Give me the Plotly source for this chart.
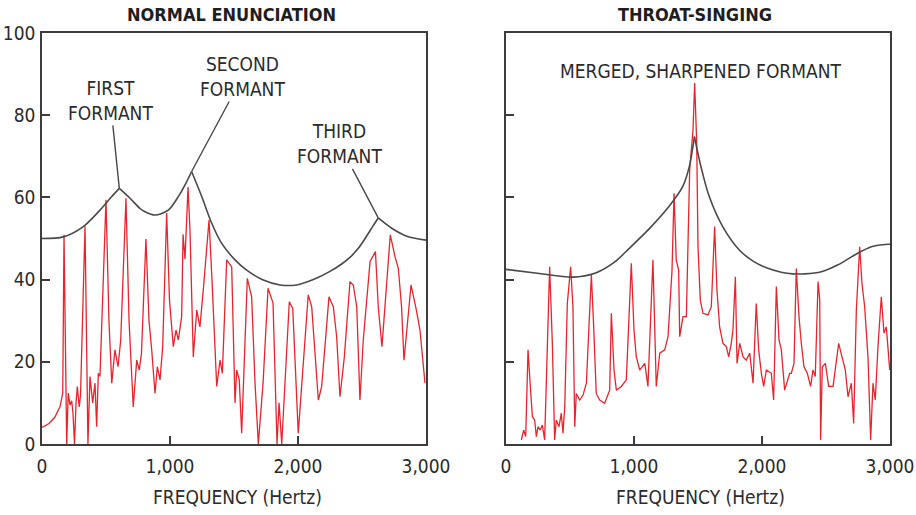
import plotly.graph_objects as go

# ---------------- data ----------------
# Normal enunciation: harmonic spectrum (Hz, dB)
normal_freq = [0, 55, 100, 141, 162, 172, 193, 205, 219, 232,
               242, 254, 266, 276, 291, 301, 336, 352, 359, 375,
               396, 414, 427, 440, 453, 500, 523, 545, 570, 594,
               615, 656, 680, 713, 740, 760, 777, 812, 836, 857,
               883, 901, 922, 943, 974, 996, 1026, 1047, 1065, 1091,
               1102, 1117, 1141, 1156, 1182, 1209, 1234, 1260, 1305, 1328,
               1365, 1391, 1409, 1443, 1482, 1508, 1521, 1541, 1560, 1604,
               1638, 1664, 1690, 1727, 1766, 1805, 1836, 1852, 1873, 1932,
               1959, 2002, 2029, 2080, 2107, 2159, 2185, 2242, 2276, 2302,
               2328, 2362, 2406, 2432, 2459, 2484, 2510, 2549, 2563, 2605,
               2627, 2656, 2721, 2758, 2784, 2809, 2828, 2848, 2883, 2922,
               2953, 2992]
normal_level = [4.0, 5.0, 6.5, 9.1, 12.4, 50.9, 0, 12.4, 9.5, 10.5,
                7.5, 0, 10, 14.0, 9.0, 12, 53.0, 20, 0, 16.4,
                10.0, 14.8, 4.2, 17.2, 16.5, 59.4, 30, 14.8, 22.9, 18.8,
                25.3, 59.8, 30, 9.0, 20.4, 18.0, 22, 49.9, 30, 22.9,
                12.3, 18.8, 15.6, 23.7, 56.2, 35, 23.7, 27.7, 25.3, 31.0,
                51.0, 45, 62.5, 52, 21.2, 32.6, 28.5, 37.5, 54.5, 40,
                14.0, 20.4, 17.2, 44.8, 43.1, 10.0, 18.0, 15.6, 2.6, 40.3,
                35.8, 15, 0, 14.8, 37.9, 34.3, 0, 10, 0, 34.6,
                33, 2.6, 14, 36.3, 33.4, 10.7, 14, 35.8, 33.4, 26.1,
                11.5, 21.2, 39.5, 38.7, 33.4, 10.7, 25.3, 38.3, 44.4, 46.8,
                33.4, 23.7, 50.9, 45.6, 42.7, 33.4, 20.4, 27, 38.7, 33,
                27.7, 14.8]

# Normal enunciation: formant envelope
normal_env_freq = [0, 167, 323, 453, 545, 604, 688, 766, 805, 883,
                   987, 1065, 1130, 1169, 1248, 1326, 1404, 1508, 1599, 1729,
                   1859, 1990, 2120, 2250, 2341, 2406, 2471, 2530, 2585, 2627,
                   2732, 2862, 3000]
normal_env_level = [50.0, 50.4, 52.9, 56.9, 60.2, 62.2, 59.8, 57.3, 56.5, 55.7,
                    56.9, 60.2, 63.8, 66.3, 60.2, 53.7, 48.8, 44.8, 42.3, 39.9,
                    38.7, 38.7, 40.0, 42.0, 43.8, 45.4, 47.6, 50.3, 53.0, 55.0,
                    52.5, 50.4, 49.6]
normal_formants = [604, 1169, 2627]
normal_formant_labels = ["FIRST<br>FORMANT", "SECOND<br>FORMANT", "THIRD<br>FORMANT"]

# Throat-singing: harmonic spectrum (Hz, dB)
throat_freq = [120, 138, 154, 172, 190, 206, 224, 237, 250, 268,
               284, 302, 341, 362, 380, 393, 414, 432, 445, 459,
               479, 505, 523, 537, 549, 576, 602, 628, 648, 667,
               685, 705, 732, 771, 810, 823, 844, 862, 901, 940,
               979, 1000, 1018, 1045, 1084, 1109, 1148, 1166, 1174, 1201,
               1240, 1266, 1297, 1313, 1330, 1349, 1357, 1383, 1409, 1435,
               1461, 1474, 1490, 1500, 1518, 1539, 1578, 1604, 1630, 1648,
               1669, 1695, 1721, 1740, 1760, 1773, 1792, 1805, 1826, 1852,
               1877, 1904, 1930, 1955, 1974, 1995, 2013, 2034, 2073, 2091,
               2112, 2133, 2151, 2177, 2216, 2229, 2250, 2268, 2289, 2307,
               2328, 2354, 2380, 2398, 2416, 2438, 2451, 2458, 2471, 2495,
               2521, 2555, 2580, 2599, 2625, 2651, 2672, 2698, 2716, 2737,
               2763, 2781, 2802, 2828, 2849, 2867, 2885, 2906, 2932, 2953,
               2971, 2990, 2998]
throat_level = [1.0, 3.4, 1.8, 22.9, 14, 6.7, 5.8, 1.8, 4.2, 3.4,
                4.6, 1.0, 43.1, 24.5, 1.0, 5.8, 4.2, 7.5, 2.6, 9.1,
                34.2, 43.1, 33.4, 4.2, 12.3, 10.7, 11.9, 14.8, 28.5, 41.1,
                28.5, 12.3, 10.7, 9.9, 13.1, 31.8, 18, 13.1, 14, 15.6,
                44, 27.7, 21.2, 18, 19.6, 14, 44.8, 22.1, 14, 22.1,
                22.9, 26.1, 42.3, 61, 44.8, 42.3, 26.1, 31, 31, 66.7,
                76.4, 87.8, 73.2, 48, 35, 31.8, 31.4, 33.4, 52.9, 37.5,
                28.5, 24.5, 23.7, 21.2, 24.5, 27.7, 40.7, 19.6, 24.5, 21.2,
                20.4, 22.1, 14.8, 34.2, 22.9, 17.2, 14, 18, 17.2, 10.7,
                38.3, 25.3, 22.9, 13.1, 17.2, 17.2, 19.6, 42.7, 31, 24.5,
                18.8, 17.2, 14, 18, 16.4, 39.5, 35, 1.0, 18.8, 19.6,
                14, 14, 20.4, 24.5, 21.2, 18, 11.5, 14.8, 5, 32.6,
                48, 39.1, 33.4, 21.2, 1.0, 14.8, 10.7, 23.7, 35.8, 27,
                28.5, 21.2, 18]

# Throat-singing: formant envelope
throat_env_freq = [0, 260, 520, 700, 850, 963, 1120, 1276, 1380, 1432,
                   1472, 1523, 1588, 1693, 1823, 1930, 2040, 2150, 2240, 2334,
                   2463, 2594, 2724, 2854, 2984, 3000]
throat_env_level = [42.5, 41.5, 40.6, 41.6, 44.3, 47.6, 52.4, 57.9, 62.6, 67.5,
                    74.8, 67.5, 60.2, 52.9, 47.2, 44.5, 42.8, 41.8, 41.4, 41.4,
                    41.9, 43.6, 46.0, 48.0, 48.6, 48.6]
throat_formants = [1472]

x_ticks = [0, 1000, 2000, 3000]
x_tick_text = ["0", "1,000", "2,000", "3,000"]
y_ticks = [0, 20, 40, 60, 80, 100]
panel_titles = ["NORMAL ENUNCIATION", "THROAT-SINGING"]
x_title = "FREQUENCY (Hertz)"
merged_label = "MERGED, SHARPENED FORMANT"

# ---------------- styling ----------------
NARROW = "'Liberation Sans Narrow', 'DejaVu Sans Condensed', 'Roboto', sans-serif"
RED = "#e6262d"
ENV = "#4a4a4a"
FRAME = "#3c3c3c"
TXT = "#2b2b2b"
W, H = 916, 515
LPX = (42, 426)
RPX = (506, 890)
TOP, BOT = 33, 444
FS = 19


def with_cusps(xs, ys, cusps):
    ox, oy = [], []
    for x, y in zip(xs, ys):
        ox.append(x)
        oy.append(y)
        if x in cusps:
            ox += [None, x]
            oy += [None, y]
    return ox, oy


fig = go.Figure()

ex, ey = with_cusps(normal_env_freq, normal_env_level, normal_formants)
fig.add_trace(go.Scatter(x=normal_freq, y=normal_level, mode="lines",
                         line=dict(color=RED, width=1.3), xaxis="x", yaxis="y",
                         hoverinfo="skip"))
fig.add_trace(go.Scatter(x=ex, y=ey, mode="lines", connectgaps=False,
                         line=dict(color=ENV, width=1.6, shape="spline", smoothing=0.8),
                         xaxis="x", yaxis="y", hoverinfo="skip"))

ex2, ey2 = with_cusps(throat_env_freq, throat_env_level, throat_formants)
fig.add_trace(go.Scatter(x=throat_freq, y=throat_level, mode="lines",
                         line=dict(color=RED, width=1.3), xaxis="x2", yaxis="y2",
                         hoverinfo="skip"))
fig.add_trace(go.Scatter(x=ex2, y=ey2, mode="lines", connectgaps=False,
                         line=dict(color=ENV, width=1.6, shape="spline", smoothing=0.8),
                         xaxis="x2", yaxis="y2", hoverinfo="skip"))

axis_common = dict(showgrid=False, zeroline=False, showline=True, mirror=True,
                   linecolor=FRAME, linewidth=1.5, ticks="inside", ticklen=8,
                   tickwidth=1.5, tickcolor=FRAME, automargin=False,
                   tickfont=dict(family=NARROW, size=FS, color=TXT))
ydom = [1 - BOT / H, 1 - TOP / H]

fig.update_layout(
    width=W, height=H, margin=dict(l=0, r=0, t=0, b=0, autoexpand=False),
    paper_bgcolor="white", plot_bgcolor="white", showlegend=False,
    xaxis=dict(domain=[LPX[0] / W, LPX[1] / W], range=[0, 3000], tickvals=x_ticks,
               ticktext=x_tick_text, anchor="y", ticklabelstandoff=4, **axis_common),
    yaxis=dict(domain=ydom, range=[0, 100], tickvals=y_ticks, anchor="x",
               ticklabelstandoff=1, **axis_common),
    xaxis2=dict(domain=[RPX[0] / W, RPX[1] / W], range=[0, 3000], tickvals=x_ticks,
                ticktext=x_tick_text, anchor="y2", ticklabelstandoff=4, **axis_common),
    yaxis2=dict(domain=ydom, range=[0, 100], tickvals=y_ticks, anchor="x2",
                showticklabels=False, **axis_common),
)

anns = []
# panel titles
for txt, cx in zip(panel_titles, [232, 695]):
    anns.append(dict(text=f"<b>{txt}</b>", x=cx / W, y=1 - 14 / H, xref="paper", yref="paper",
                     xanchor="center", yanchor="middle", showarrow=False,
                     font=dict(family=NARROW, size=18, color="#1e1e1e")))
# x axis titles
for cx in [237, 700]:
    anns.append(dict(text=x_title, x=cx / W, y=1 - 497 / H, xref="paper", yref="paper",
                     xanchor="center", yanchor="middle", showarrow=False,
                     font=dict(family=NARROW, size=FS, color=TXT)))
# formant labels with leader lines
offsets = [(-9, -88), (51, -95), (-39, -74)]
for f, lab, (ax, ay) in zip(normal_formants, normal_formant_labels, offsets):
    lvl = normal_env_level[normal_env_freq.index(f)]
    anns.append(dict(text=lab, x=f, y=lvl, xref="x", yref="y", ax=ax, ay=ay,
                     showarrow=True, arrowhead=0, arrowwidth=1.4, arrowcolor=ENV,
                     standoff=0, align="center",
                     font=dict(family=NARROW, size=FS, color=TXT)))
anns.append(dict(text=merged_label, x=1516, y=90.8, xref="x2", yref="y2",
                 showarrow=False, xanchor="center", yanchor="middle",
                 font=dict(family=NARROW, size=FS, color=TXT)))
fig.update_layout(annotations=anns)

fig.write_html("out.html", config={"displayModeBar": False},
               post_script="document.body.style.margin='0px';document.body.style.overflow='hidden';")
